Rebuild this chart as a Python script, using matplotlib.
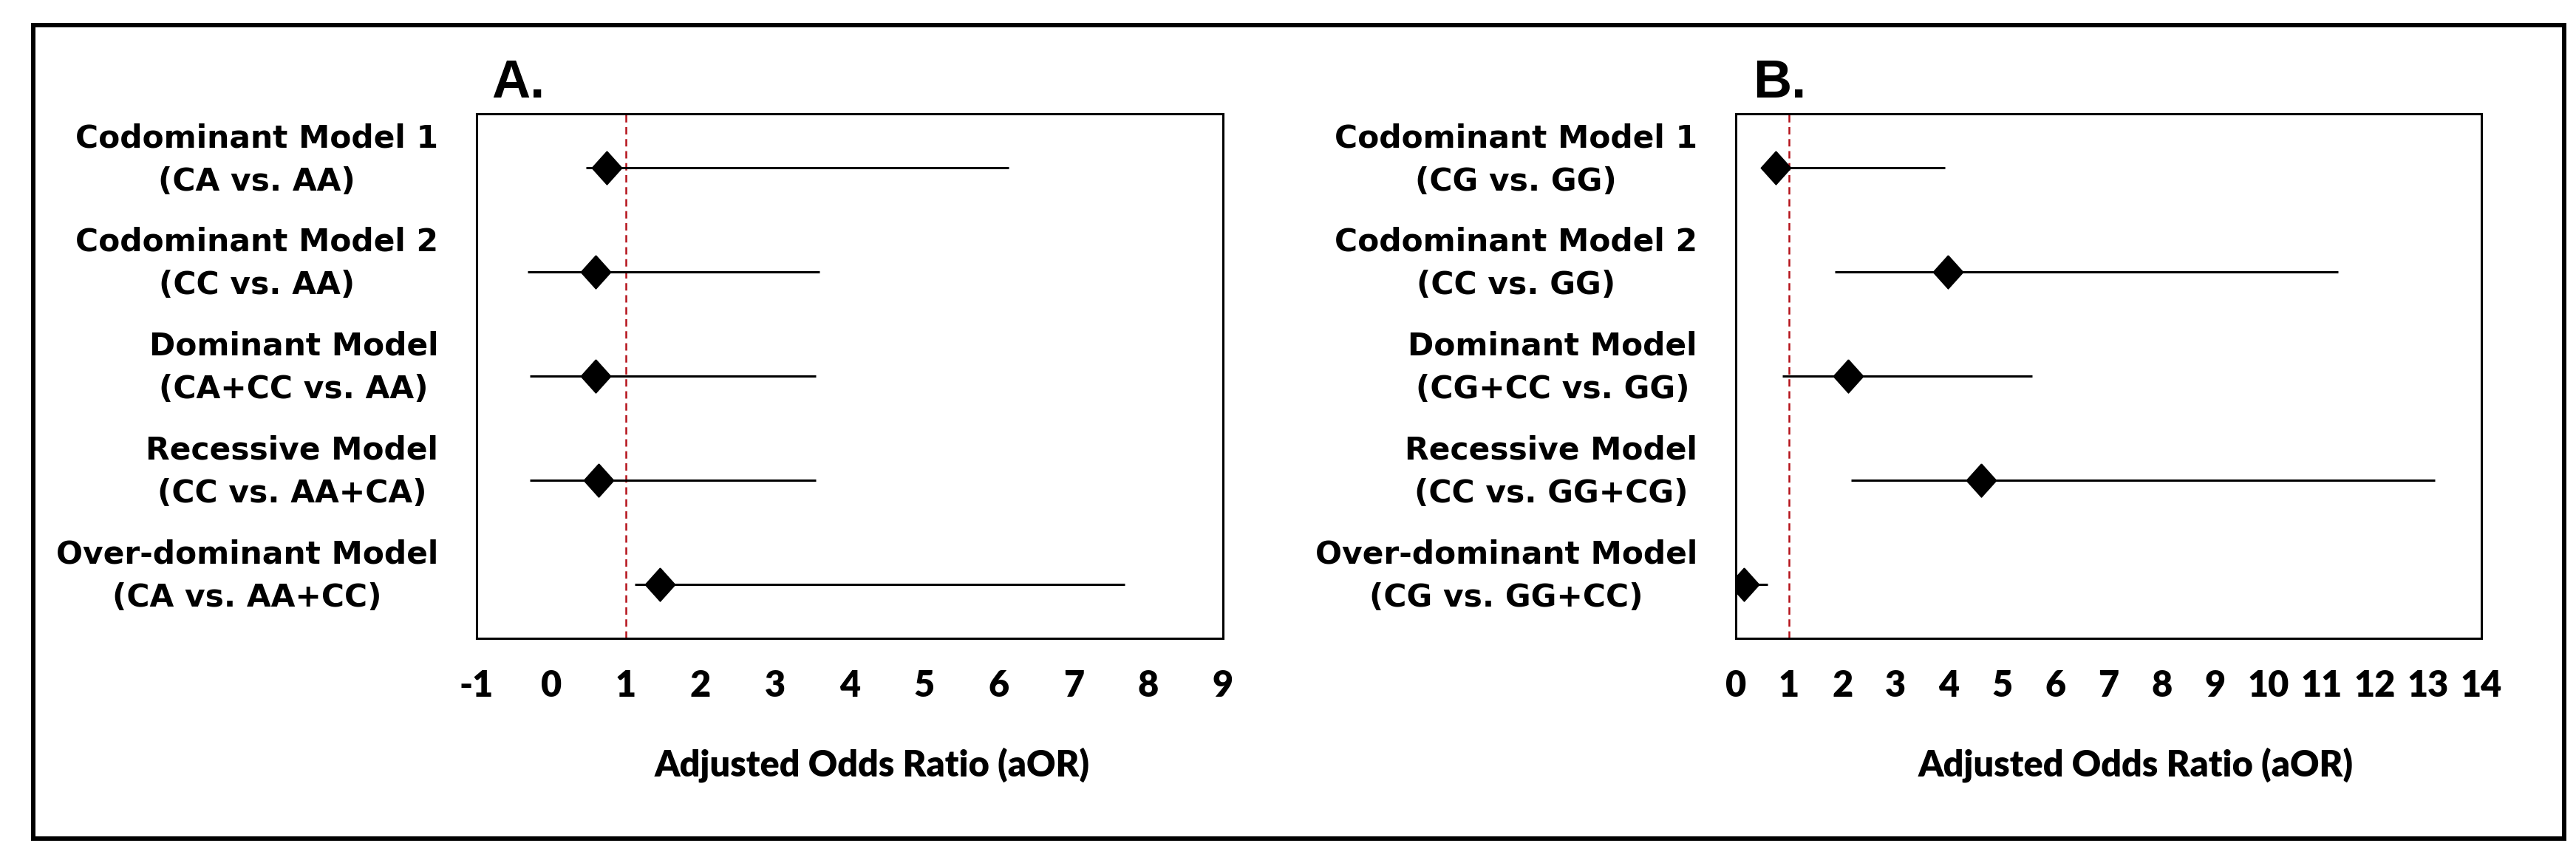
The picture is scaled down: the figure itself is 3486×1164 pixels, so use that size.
import matplotlib
matplotlib.use("Agg")
import matplotlib.pyplot as plt
import matplotlib.transforms as mtransforms
from matplotlib.patches import Rectangle

# ---- data ----
labels_a = ["Codominant Model 1\n(CA vs. AA)",
            "Codominant Model 2\n(CC vs. AA)",
            "Dominant Model\n(CA+CC vs. AA)",
            "Recessive Model\n(CC vs. AA+CA)",
            "Over-dominant Model\n(CA vs. AA+CC)"]
aor_a = [0.74, 0.59, 0.59, 0.63, 1.46]
low_a = [0.47, -0.32, -0.29, -0.29, 1.12]
up_a = [6.13, 3.59, 3.54, 3.54, 7.68]
ticks_a = [-1, 0, 1, 2, 3, 4, 5, 6, 7, 8, 9]

labels_b = ["Codominant Model 1\n(CG vs. GG)",
            "Codominant Model 2\n(CC vs. GG)",
            "Dominant Model\n(CG+CC vs. GG)",
            "Recessive Model\n(CC vs. GG+CG)",
            "Over-dominant Model\n(CG vs. GG+CC)"]
aor_b = [0.75, 3.98, 2.11, 4.60, 0.15]
low_b = [0.50, 1.86, 0.87, 2.16, 0.00]
up_b = [3.92, 11.31, 5.56, 13.13, 0.59]
ticks_b = list(range(0, 15))

panel_titles = ["A.", "B."]
xlabel = "Adjusted Odds Ratio (aOR)"

W, H = 3487, 1164
DPI = 100
fig = plt.figure(figsize=(W / DPI, H / DPI), dpi=DPI)
fig.patch.set_facecolor("white")

# outer frame
fig.add_artist(Rectangle((45 / W, 1 - 1135 / H), (3470 - 45) / W, (1135 - 34) / H,
                         transform=fig.transFigure, fill=False, lw=4.3,
                         edgecolor="black", zorder=10))

diamond = [(0, 1), (0.9, 0), (0, -1), (-0.9, 0), (0, 1)]

def panel(left_px, right_px, labels, aor, low, up, ticks, xlim, title, title_x_px, xlabel_frac):
    ax = fig.add_axes([left_px / W, 1 - 864 / H, (right_px - left_px) / W, (864 - 154) / H])
    ys = list(range(1, len(labels) + 1))
    for y, lo, hi in zip(ys, low, up):
        ax.plot([lo, hi], [y, y], color="black", lw=2.2, solid_capstyle="butt", zorder=3)
    ax.plot(aor, ys, linestyle="none", marker=diamond, markersize=32.5,
            color="black", zorder=4)
    ax.axvline(1, color="#B5121B", lw=1.8, ls=(0, (4, 2.5)), zorder=2)
    ax.set_xlim(*xlim)
    ax.set_ylim(5.52, 0.48)
    ax.set_yticks([])
    ax.set_xticks(ticks)
    ax.set_xticklabels([str(t) for t in ticks], fontfamily="Lato", fontweight="heavy",
                       fontsize=35)
    ax.tick_params(axis="x", length=0, pad=30)
    for s in ax.spines.values():
        s.set_linewidth(2.2)
        s.set_color("black")
    ax.set_xlabel(xlabel, fontfamily="Lato", fontweight="heavy", fontsize=35)
    ax.xaxis.set_label_coords(xlabel_frac, -0.262)
    ax.xaxis.label.set_va("baseline")
    # row labels
    trans = mtransforms.blended_transform_factory(ax.transAxes, ax.transData)
    trans = trans + mtransforms.ScaledTranslation(-52 / DPI, 11 / DPI, fig.dpi_scale_trans)
    for y, lab in zip(ys, labels):
        ax.text(0, y, lab, transform=trans, ha="right", va="center", multialignment="center",
                fontfamily="DejaVu Sans", fontweight="bold", fontsize=30.5, linespacing=1.5)
    fig.text(title_x_px / W, 1 - 132 / H, title, fontfamily="Liberation Sans",
             fontweight="bold", fontsize=52, va="baseline", ha="left")
    return ax

panel(645, 1655, labels_a, aor_a, low_a, up_a, ticks_a, (-1, 9), panel_titles[0], 665, 0.53)
panel(2349, 3358, labels_b, aor_b, low_b, up_b, ticks_b, (0, 14), panel_titles[1], 2372, 0.536)

fig.savefig("out.png", dpi=DPI, facecolor="white")
